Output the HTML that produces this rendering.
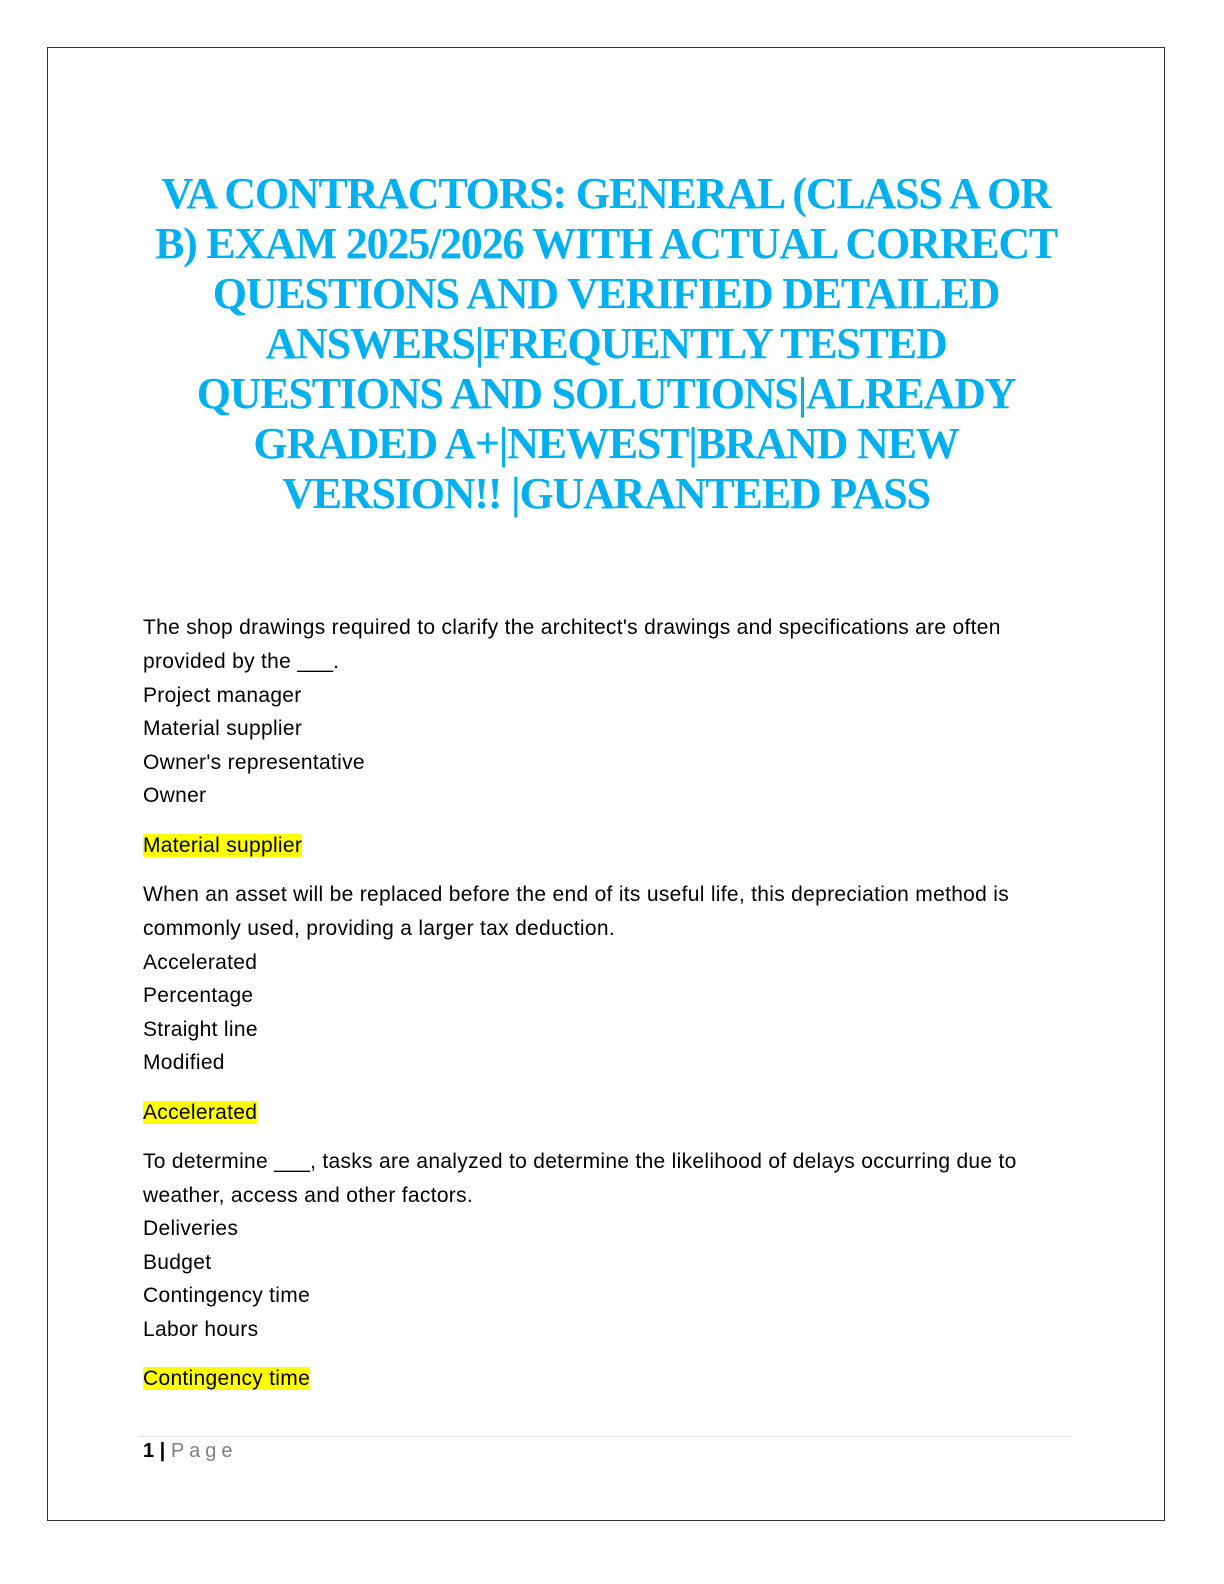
<!DOCTYPE html>
<html><head><meta charset="utf-8"><style>
body{margin:0;background:#fff;}
#pg{position:relative;width:1224px;height:1584px;overflow:hidden;background:#fff;}
.border{position:absolute;left:47px;top:47px;width:1116px;height:1472px;border:1px solid #333;}
.t{position:absolute;left:0;width:1212px;text-align:center;font-family:"Liberation Serif",serif;font-weight:bold;font-size:44px;color:#00b0f0;letter-spacing:-1.2px;line-height:50px;white-space:nowrap;}
.l{position:absolute;left:143px;font-family:"Liberation Sans",sans-serif;font-size:21px;line-height:27px;color:#000;white-space:nowrap;letter-spacing:0.3px;}
.h{background:#ffff00;}
.rule{position:absolute;left:140px;top:1436px;width:932px;height:1px;background:#ddd;}
.ft{position:absolute;left:143px;top:1440px;font-family:"Liberation Sans",sans-serif;font-size:20px;}
</style></head><body><div id="pg">
<div class="border"></div>
<div class="t" style="top:169px">VA CONTRACTORS: GENERAL (CLASS A OR</div>
<div class="t" style="top:219px">B) EXAM 2025/2026 WITH ACTUAL CORRECT</div>
<div class="t" style="top:269px">QUESTIONS AND VERIFIED DETAILED</div>
<div class="t" style="top:319px">ANSWERS|FREQUENTLY TESTED</div>
<div class="t" style="top:369px">QUESTIONS AND SOLUTIONS|ALREADY</div>
<div class="t" style="top:419px">GRADED A+|NEWEST|BRAND NEW</div>
<div class="t" style="top:469px">VERSION!! |GUARANTEED PASS</div>

<div class="l" style="top:614px">The shop drawings required to clarify the architect's drawings and specifications are often</div>
<div class="l" style="top:648px">provided by the ___.</div>
<div class="l" style="top:682px">Project manager</div>
<div class="l" style="top:715px">Material supplier</div>
<div class="l" style="top:749px">Owner's representative</div>
<div class="l" style="top:782px">Owner</div>
<div class="l" style="top:832px"><span class="h">Material supplier</span></div>

<div class="l" style="top:881px">When an asset will be replaced before the end of its useful life, this depreciation method is</div>
<div class="l" style="top:915px">commonly used, providing a larger tax deduction.</div>
<div class="l" style="top:949px">Accelerated</div>
<div class="l" style="top:982px">Percentage</div>
<div class="l" style="top:1016px">Straight line</div>
<div class="l" style="top:1049px">Modified</div>
<div class="l" style="top:1099px"><span class="h">Accelerated</span></div>

<div class="l" style="top:1148px">To determine ___, tasks are analyzed to determine the likelihood of delays occurring due to</div>
<div class="l" style="top:1182px">weather, access and other factors.</div>
<div class="l" style="top:1215px">Deliveries</div>
<div class="l" style="top:1249px">Budget</div>
<div class="l" style="top:1282px">Contingency time</div>
<div class="l" style="top:1316px">Labor hours</div>
<div class="l" style="top:1365px"><span class="h">Contingency time</span></div>

<div class="rule"></div>
<div class="ft"><b>1 |</b> <span style="color:#7f7f7f;letter-spacing:5px">Page</span></div>
</div></body></html>
